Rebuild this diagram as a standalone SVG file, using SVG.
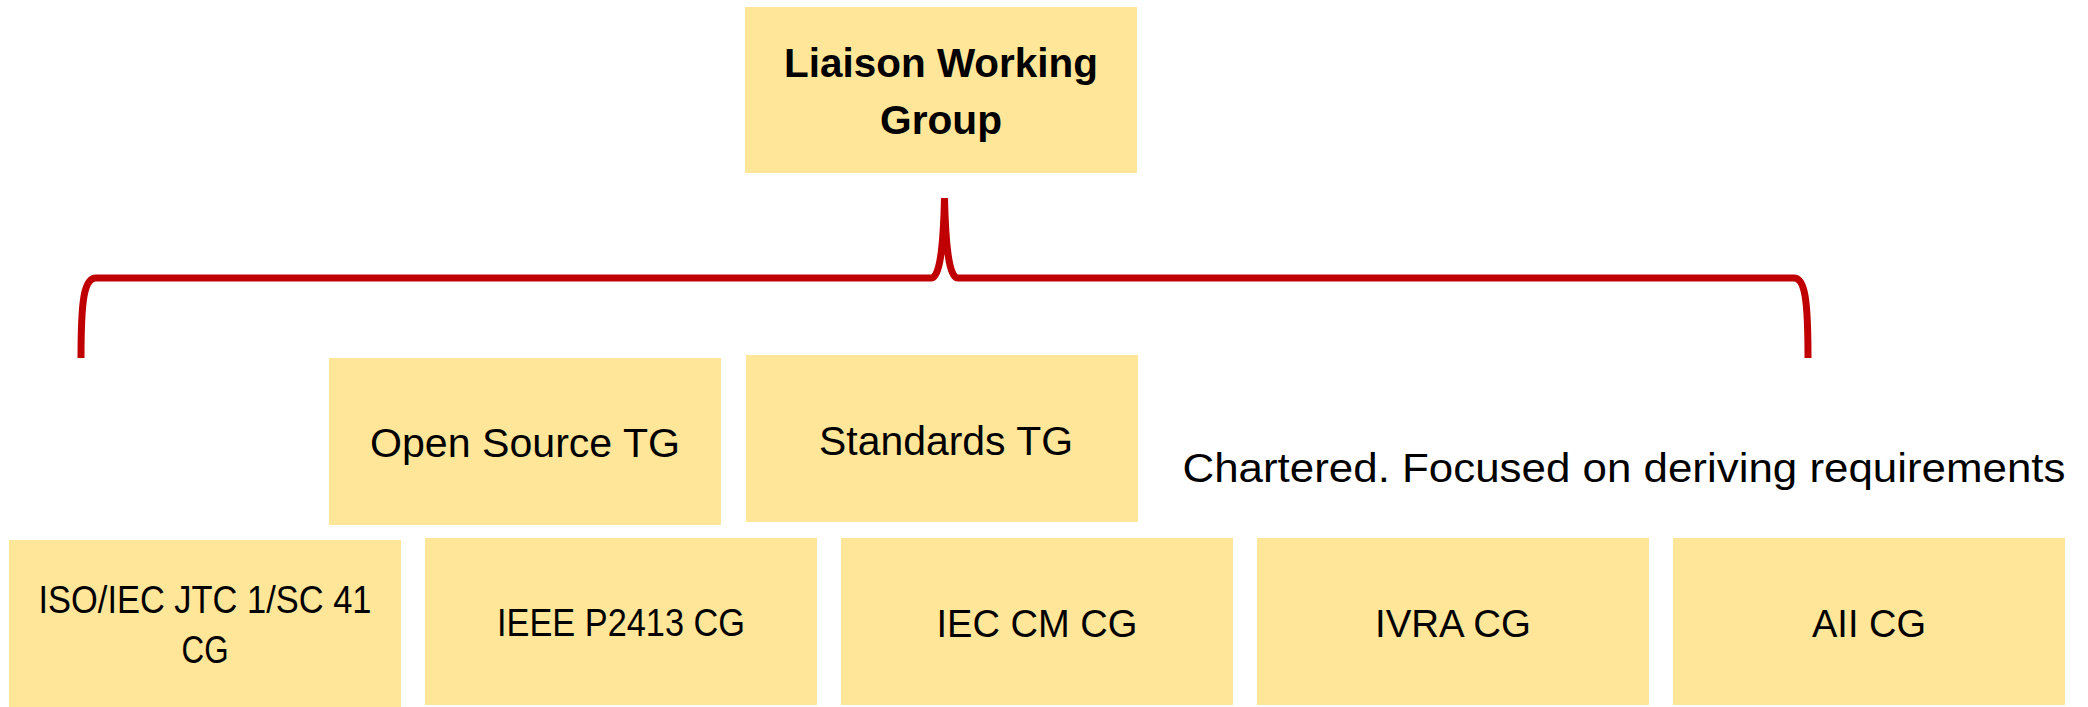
<svg xmlns="http://www.w3.org/2000/svg" width="2088" height="707" viewBox="0 0 2088 707">
<style>
.box{fill:#FFE699;}
.t{font-family:"Liberation Sans",Arial,sans-serif;fill:#000;text-anchor:middle;}
.b{font-weight:bold;font-size:40.5px;}
.m{font-size:41px;}
.s{font-size:38px;}
.brace{fill:none;stroke:#C00000;stroke-width:7;stroke-linecap:butt;stroke-linejoin:round;}
</style>
<rect width="2088" height="707" fill="#fff"/>
<g id="connectors">
<path class="brace" d="M81,358 C81,300 84,278 96,278 L931,278 C938,278 943,260 944.5,198 M944.5,198 C946,260 951,278 958,278 L1794,278 C1805,278 1808,300 1808,358"/>
</g>
<g id="liaison">
<rect class="box" x="745" y="7" width="392" height="166"/>
<text class="t b" x="941" y="77" textLength="314" lengthAdjust="spacingAndGlyphs">Liaison Working</text>
<text class="t b" x="941" y="134" textLength="122" lengthAdjust="spacingAndGlyphs">Group</text>
</g>
<g id="opensource">
<rect class="box" x="329" y="358" width="392" height="167"/>
<text class="t m" x="525" y="457" textLength="310" lengthAdjust="spacingAndGlyphs">Open Source TG</text>
</g>
<g id="standards">
<rect class="box" x="746" y="355" width="392" height="167"/>
<text class="t m" x="946" y="455" textLength="254" lengthAdjust="spacingAndGlyphs">Standards TG</text>
</g>
<g id="chartered">
<text class="t m" x="1624" y="482" textLength="883" lengthAdjust="spacingAndGlyphs">Chartered. Focused on deriving requirements</text>
</g>
<g id="iso">
<rect class="box" x="9" y="540" width="392" height="167"/>
<text class="t s" x="205" y="613" textLength="333" lengthAdjust="spacingAndGlyphs">ISO/IEC JTC 1/SC 41</text>
<text class="t s" x="205" y="663" textLength="47" lengthAdjust="spacingAndGlyphs">CG</text>
</g>
<g id="ieee">
<rect class="box" x="425" y="538" width="392" height="167"/>
<text class="t s" x="621" y="636" textLength="248" lengthAdjust="spacingAndGlyphs">IEEE P2413 CG</text>
</g>
<g id="ieccm">
<rect class="box" x="841" y="538" width="392" height="167"/>
<text class="t s" x="1037" y="637" textLength="201" lengthAdjust="spacingAndGlyphs">IEC CM CG</text>
</g>
<g id="ivra">
<rect class="box" x="1257" y="538" width="392" height="167"/>
<text class="t s" x="1453" y="637" textLength="156" lengthAdjust="spacingAndGlyphs">IVRA CG</text>
</g>
<g id="aii">
<rect class="box" x="1673" y="538" width="392" height="167"/>
<text class="t s" x="1869" y="637" textLength="114" lengthAdjust="spacingAndGlyphs">AII CG</text>
</g>
</svg>
